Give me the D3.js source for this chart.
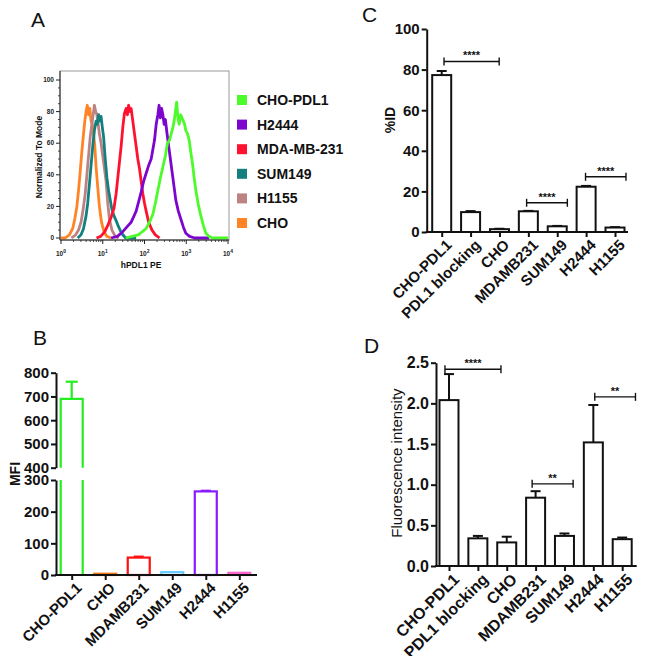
<!DOCTYPE html>
<html><head><meta charset="utf-8">
<script src="https://cdn.jsdelivr.net/npm/d3@7"></script>
<style>
html,body{margin:0;padding:0;background:#fff;}
svg{display:block;font-family:"Liberation Sans",Arial,sans-serif;}
</style></head>
<body>
<svg id="fig" width="650" height="656"></svg>
<script>
// ---------- Panel A: flow histograms (x = log10 intensity, y = % of mode) ----------
const histNames  = ["CHO-PDL1","H2444","MDA-MB-231","SUM149","H1155","CHO"];
const histColors = ["#4dfa2a","#7d06cf","#ff1230","#13807f","#bd8383","#ff8426"];
const histCHOPDL1 = [[1.55,0],[1.7,1],[1.85,2],[1.95,4],[2.04,6],[2.12,10],[2.2,15],[2.26,22],[2.32,30],[2.38,38],[2.44,45],[2.5,52],[2.55,60],[2.6,62],[2.64,66],[2.68,70],[2.71,74],[2.74,80],[2.77,86],[2.8,76],[2.83,72],[2.87,78],[2.9,76],[2.93,74],[2.96,72],[2.99,68],[3.03,66],[3.07,62],[3.11,54],[3.15,47],[3.19,38],[3.23,30],[3.29,21],[3.35,14],[3.41,8],[3.47,3],[3.55,1],[3.63,0],[4.0,0]];
const histH2444 = [[1.2,0],[1.35,1],[1.48,4],[1.58,7],[1.68,10],[1.75,14],[1.8,17],[1.86,23],[1.92,29],[1.98,36],[2.04,41],[2.1,46],[2.16,50],[2.2,56],[2.24,62],[2.28,72],[2.32,78],[2.35,84],[2.38,76],[2.41,82],[2.44,78],[2.47,72],[2.5,75],[2.54,66],[2.58,58],[2.62,50],[2.67,40],[2.71,32],[2.75,24],[2.81,17],[2.87,12],[2.93,7],[2.99,3],[3.08,1],[3.2,0],[3.55,0]];
const histMDA = [[0.85,0],[0.95,1],[1.05,4],[1.12,8],[1.2,13],[1.27,19],[1.32,28],[1.36,38],[1.4,48],[1.44,58],[1.48,70],[1.52,79],[1.56,82],[1.59,78],[1.62,84],[1.65,80],[1.68,82],[1.71,76],[1.75,68],[1.8,58],[1.84,50],[1.88,44],[1.92,36],[1.96,28],[2.0,22],[2.04,17],[2.1,10],[2.18,5],[2.26,2],[2.36,0]];
const histSUM149 = [[0.4,0],[0.48,2],[0.54,6],[0.6,14],[0.64,22],[0.68,34],[0.72,46],[0.76,58],[0.8,68],[0.84,74],[0.87,72],[0.9,78],[0.93,74],[0.96,77],[0.99,70],[1.02,64],[1.06,50],[1.1,38],[1.14,30],[1.18,24],[1.22,18],[1.27,14],[1.32,11],[1.38,7],[1.45,3],[1.55,0],[1.8,0]];
const histH1155 = [[0.25,0],[0.35,2],[0.42,5],[0.48,10],[0.53,18],[0.58,28],[0.62,40],[0.66,52],[0.7,64],[0.74,72],[0.77,78],[0.8,84],[0.83,80],[0.86,78],[0.89,72],[0.92,66],[0.96,60],[1.0,52],[1.04,44],[1.08,36],[1.12,22],[1.16,12],[1.22,5],[1.3,1],[1.38,0]];
const histCHO = [[0.0,0],[0.1,0],[0.2,2],[0.28,6],[0.33,12],[0.38,20],[0.42,30],[0.46,42],[0.5,55],[0.54,66],[0.57,74],[0.6,80],[0.63,84],[0.66,78],[0.69,82],[0.72,74],[0.75,72],[0.78,66],[0.81,58],[0.84,45],[0.88,32],[0.92,20],[0.97,10],[1.03,4],[1.1,1],[1.2,0]];
const histSeries = [histCHOPDL1,histH2444,histMDA,histSUM149,histH1155,histCHO];
const histYTicks = [0,20,40,60,80,100];
const histXDecades = [0,1,2,3,4];

// ---------- Panel B: MFI ----------
const mfiCats   = ["CHO-PDL1","CHO","MDAMB231","SUM149","H2444","H1155"];
const mfiValues = [690,4,55,9,264,7];
const mfiErrors = [72,0,3,0,2,0];
const mfiColors = ["#22ee22","#ee7711","#ff1111","#66ccff","#8a1aff","#ff66cc"];
const mfiLowTicks  = [0,100,200,300];
const mfiHighTicks = [400,500,600,700,800];

// ---------- Panel C: %ID ----------
const idCats   = ["CHO-PDL1","PDL1 blocking","CHO","MDAMB231","SUM149","H2444","H1155"];
const idValues = [77.3,9.8,1.4,10.2,2.8,22.3,2.2];
const idErrors = [2.0,0.5,0.2,0.2,0.2,0.4,0.2];
const idTicks  = [0,20,40,60,80,100];
const idSig    = [[0.08,1.99,84,"****"],[2.94,4.35,14.4,"****"],[4.98,6.38,27.2,"****"]];

// ---------- Panel D: fluorescence intensity ----------
const fiCats   = ["CHO-PDL1","PDL1 blocking","CHO","MDAMB231","SUM149","H2444","H1155"];
const fiValues = [2.04,0.34,0.29,0.84,0.37,1.52,0.33];
const fiErrors = [0.32,0.03,0.07,0.08,0.03,0.46,0.02];
const fiTicks  = [0,0.5,1.0,1.5,2.0,2.5];
const fiSig    = [[-0.14,1.8,2.42,"****"],[2.88,4.3,1.01,"**"],[5.05,6.46,2.08,"**"]];

const svg = d3.select("#fig");
const FONT = '"Liberation Sans",Arial,sans-serif';

function panelLabel(t,x,y){
  svg.append("text").attr("x",x).attr("y",y).attr("font-size",21).attr("fill","#111").text(t);
}

// ================= Panel A =================
(function(){
  const L=60,R=229,T=71,B=240;
  const x = d3.scaleLog().domain([1,1e4]).range([61,228]);
  const y = d3.scaleLinear().domain([0,100]).range([238,80]);
  const g = svg.append("g");
  g.append("rect").attr("x",L).attr("y",T).attr("width",R-L).attr("height",B-T)
    .attr("fill","none").attr("stroke","#999").attr("stroke-width",1);
  const line = d3.line().x(d=>x(Math.pow(10,d[0]))).y(d=>y(d[1]));
  for(let i=histSeries.length-1;i>=0;i--){
    g.append("path").datum(histSeries[i]).attr("d",line).attr("fill","none")
      .attr("stroke",histColors[i]).attr("stroke-width",2.8).attr("stroke-linejoin","round");
  }
  g.append("line").attr("x1",L).attr("x2",L).attr("y1",T).attr("y2",B).attr("stroke","#222").attr("stroke-width",1);
  g.append("line").attr("x1",L).attr("x2",R).attr("y1",B).attr("y2",B).attr("stroke","#222").attr("stroke-width",1);
  const minorY = d3.range(0,101,5).filter(v=>v%20!==0);
  minorY.forEach(v=>g.append("line").attr("x1",L-2).attr("x2",L).attr("y1",y(v)).attr("y2",y(v)).attr("stroke","#222").attr("stroke-width",0.8));
  histYTicks.forEach(v=>{
    g.append("line").attr("x1",L-4).attr("x2",L).attr("y1",y(v)).attr("y2",y(v)).attr("stroke","#222").attr("stroke-width",1);
    g.append("text").attr("x",L-6).attr("y",y(v)).attr("dy","0.35em").attr("text-anchor","end")
      .attr("font-size",6.5).attr("font-weight","bold").attr("fill","#222").text(v);
  });
  histXDecades.forEach(e=>{
    const xv=x(Math.pow(10,e));
    g.append("line").attr("x1",xv).attr("x2",xv).attr("y1",B).attr("y2",B+4).attr("stroke","#222").attr("stroke-width",1);
    if(e<4){ for(let k=2;k<10;k++){ const xm=x(k*Math.pow(10,e));
      g.append("line").attr("x1",xm).attr("x2",xm).attr("y1",B).attr("y2",B+2).attr("stroke","#222").attr("stroke-width",0.8);} }
    const t=g.append("text").attr("x",xv).attr("y",B+16).attr("text-anchor","middle").attr("font-size",6.5).attr("font-weight","bold").attr("fill","#222");
    t.append("tspan").text("10");
    t.append("tspan").attr("dy",-3).attr("font-size",5).text(e);
  });
  g.append("text").attr("x",141).attr("y",268).attr("text-anchor","middle").attr("font-size",8.5).attr("font-weight","bold").attr("fill","#111").text("hPDL1 PE");
  g.append("text").attr("transform","translate(42,157) rotate(-90)").attr("text-anchor","middle").attr("font-size",8.5).attr("font-weight","bold").attr("fill","#111").text("Normalized To Mode");
  histNames.forEach((n,i)=>{
    const yy=100+i*24.6;
    g.append("rect").attr("x",237).attr("y",yy-5).attr("width",10).attr("height",10).attr("fill",histColors[i]);
    g.append("text").attr("x",257).attr("y",yy).attr("dy","0.36em").attr("font-size",14).attr("font-weight","bold").attr("fill","#111").text(n);
  });
  panelLabel("A",31,27);
})();

function bottomAxis(x, y0, x1, x2, fs){
  svg.append("line").attr("x1",x1).attr("x2",x2).attr("y1",y0).attr("y2",y0).attr("stroke","#111").attr("stroke-width",2);
  const ax = svg.append("g").attr("transform",`translate(0,${y0})`).call(d3.axisBottom(x).tickSize(5).tickFormat(""));
  ax.select(".domain").remove();
  ax.selectAll(".tick line").attr("stroke","#111").attr("stroke-width",2);
  x.domain().forEach(c=>{
    svg.append("text").attr("transform",`translate(${x(c)+4},${y0+7}) rotate(-45)`)
      .attr("text-anchor","end").attr("dy","0.65em").attr("font-size",fs).attr("font-weight","bold").attr("fill","#111").text(c);
  });
}
function leftAxis(y, ticks, xPos, fmt, fs){
  const ax = svg.append("g").attr("transform",`translate(${xPos},0)`)
    .call(d3.axisLeft(y).tickValues(ticks).tickSize(5).tickSizeOuter(0).tickPadding(2).tickFormat(fmt||d3.format("d")));
  ax.select(".domain").attr("stroke","#111").attr("stroke-width",2);
  ax.selectAll(".tick line").attr("stroke","#111").attr("stroke-width",2);
  ax.selectAll(".tick text").attr("font-size",fs||15).attr("font-weight","bold").attr("fill","#111").attr("font-family",FONT);
  return ax;
}
function sigBracket(xc, y, a, b, v, label){
  const step = xc.step();
  const x0 = xc(xc.domain()[0]);
  const xa = x0 + a*step, xb = x0 + b*step, yy = y(v);
  const g = svg.append("g").attr("stroke","#111").attr("stroke-width",1.4);
  g.append("line").attr("x1",xa).attr("x2",xb).attr("y1",yy).attr("y2",yy);
  g.append("line").attr("x1",xa).attr("x2",xa).attr("y1",yy-4).attr("y2",yy+4);
  g.append("line").attr("x1",xb).attr("x2",xb).attr("y1",yy-4).attr("y2",yy+4);
  svg.append("text").attr("x",(xa+xb)/2).attr("y",yy-2).attr("text-anchor","middle").attr("font-size",11).attr("font-weight","bold").attr("fill","#111").text(label);
}
function barChart(cats, vals, errs, x, y, barW, y0, color, sw){
  cats.forEach((c,i)=>{
    const cx=x(c), top=y(vals[i]);
    if(errs[i]>0){
      svg.append("line").attr("x1",cx).attr("x2",cx).attr("y1",top).attr("y2",y(vals[i]+errs[i])).attr("stroke",color).attr("stroke-width",sw);
      svg.append("line").attr("x1",cx-5).attr("x2",cx+5).attr("y1",y(vals[i]+errs[i])).attr("y2",y(vals[i]+errs[i])).attr("stroke",color).attr("stroke-width",sw);
    }
    svg.append("rect").attr("x",cx-barW/2).attr("y",top).attr("width",barW).attr("height",Math.max(0,y0-top))
      .attr("fill","#fff").attr("stroke",color).attr("stroke-width",sw);
  });
}

// ================= Panel B =================
(function(){
  const yLow = d3.scaleLinear().domain([0,300]).range([575,480]);
  const yHigh = d3.scaleLinear().domain([400,800]).range([467.7,372.7]);
  const x = d3.scalePoint().domain(mfiCats).range([71.7,239.3]);
  const barW = 22;
  mfiCats.forEach((c,i)=>{
    const v=mfiValues[i], cx=x(c), col=mfiColors[i];
    if(v>300){
      const top=yHigh(v);
      const g=svg.append("g").attr("stroke",col).attr("stroke-width",2.2).attr("fill","none");
      g.append("line").attr("x1",cx).attr("x2",cx).attr("y1",top).attr("y2",yHigh(v+mfiErrors[i]));
      g.append("line").attr("x1",cx-6).attr("x2",cx+6).attr("y1",yHigh(v+mfiErrors[i])).attr("y2",yHigh(v+mfiErrors[i]));
      g.append("path").attr("d",`M${cx-barW/2},${yHigh(400)}V${top}H${cx+barW/2}V${yHigh(400)}`);
      g.append("path").attr("d",`M${cx-barW/2},${yLow(300)}V${yLow(0)}M${cx+barW/2},${yLow(300)}V${yLow(0)}`);
    } else {
      const top=yLow(v);
      if(mfiErrors[i]>0){
        svg.append("line").attr("x1",cx-5).attr("x2",cx+5).attr("y1",yLow(v+mfiErrors[i])).attr("y2",yLow(v+mfiErrors[i])).attr("stroke",col).attr("stroke-width",2.2);
      }
      svg.append("rect").attr("x",cx-barW/2).attr("y",top).attr("width",barW).attr("height",yLow(0)-top)
        .attr("fill","#fff").attr("stroke",col).attr("stroke-width",2.2);
    }
  });
  leftAxis(yHigh, mfiHighTicks, 56);
  leftAxis(yLow, mfiLowTicks, 56);
  bottomAxis(x, 575, 55, 257, 15);
  svg.append("text").attr("transform","translate(20,474) rotate(-90)").attr("text-anchor","middle").attr("font-size",14).attr("font-weight","bold").attr("fill","#111").text("MFI");
  panelLabel("B",33,345);
})();

// ================= Panel C =================
(function(){
  const y = d3.scaleLinear().domain([0,100]).range([232,29]);
  const x = d3.scalePoint().domain(idCats).range([441.7,615]);
  barChart(idCats, idValues, idErrors, x, y, 19, 232, "#111", 2);
  leftAxis(y, idTicks, 426.7);
  bottomAxis(x, 232, 425.7, 628, 15);
  idSig.forEach(s=>sigBracket(x,y,s[0],s[1],s[2],s[3]));
  svg.append("text").attr("transform","translate(395,120) rotate(-90)").attr("text-anchor","middle").attr("font-size",14).attr("font-weight","bold").attr("fill","#111").text("%ID");
  panelLabel("C",362,22);
})();

// ================= Panel D =================
(function(){
  const y = d3.scaleLinear().domain([0,2.5]).range([566,362.7]);
  const x = d3.scalePoint().domain(fiCats).range([449,622.2]);
  barChart(fiCats, fiValues, fiErrors, x, y, 19, 566, "#111", 2);
  leftAxis(y, fiTicks, 436, d3.format(".1f"), 16);
  bottomAxis(x, 566, 435, 636.7, 16);
  fiSig.forEach(s=>sigBracket(x,y,s[0],s[1],s[2],s[3]));
  svg.append("text").attr("transform","translate(402,463) rotate(-90)").attr("text-anchor","middle").attr("font-size",15).attr("fill","#111").text("Fluorescence intensity");
  panelLabel("D",364,353);
})();
</script>
</body></html>
